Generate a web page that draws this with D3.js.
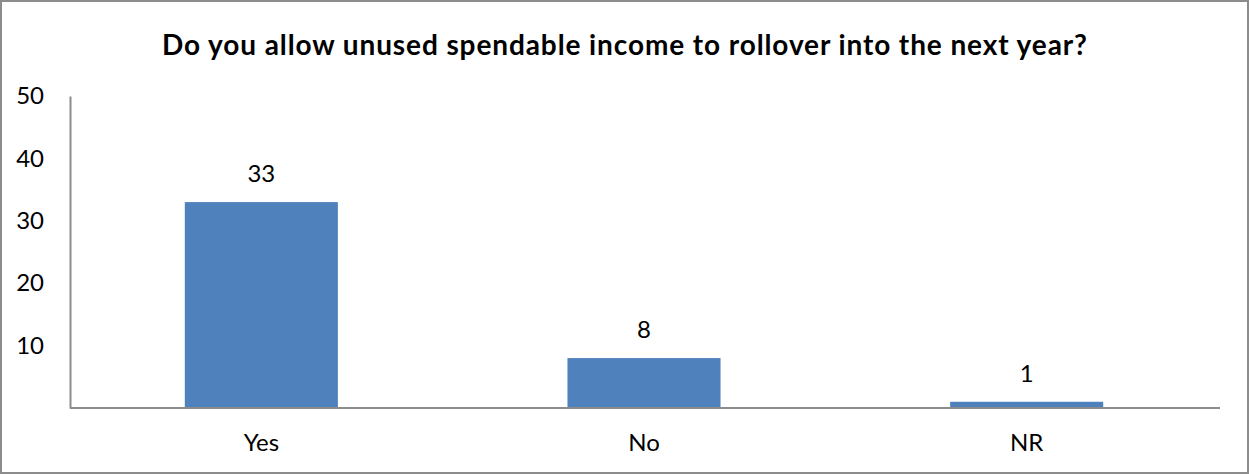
<!DOCTYPE html>
<html><head><meta charset="utf-8">
<script src="https://cdn.jsdelivr.net/npm/d3@7"></script>
<style>body{margin:0;background:#fff}svg{display:block}</style>
</head><body><svg id="c" width="1249" height="474"></svg>
<script>
const categories = ["Yes", "No", "NR"];
const values = [33, 8, 1];
const yTicks = [10, 20, 30, 40, 50];
const title = "Do you allow unused spendable income to rollover into the next year?";

const svg = d3.select("#c");
const W = 1249, H = 474;
const m = {left: 70, right: 31, top: 96, bottom: 66};
const font = "Lato, 'Open Sans', 'Liberation Sans', sans-serif";

svg.append("rect").attr("x", 1).attr("y", 1).attr("width", W - 2).attr("height", H - 2)
  .attr("fill", "#fff").attr("stroke", "#8c8c8c").attr("stroke-width", 2);

svg.append("text").attr("x", 625).attr("y", 55).attr("text-anchor", "middle")
  .attr("font-family", font).attr("font-weight", "bold").attr("font-size", 28)
  .attr("letter-spacing", 0.9).attr("fill", "#000")
  .text(title);

const x = d3.scaleBand().domain(categories).range([m.left, W - m.right]).paddingInner(0.6).paddingOuter(0.3);
const y = d3.scaleLinear().domain([0, 50]).range([H - m.bottom, m.top]);

svg.selectAll("rect.bar").data(values).enter().append("rect").attr("class", "bar")
  .attr("x", (d, i) => x(categories[i])).attr("width", x.bandwidth())
  .attr("y", d => y(d)).attr("height", d => y(0) - y(d)).attr("fill", "#4f81bd");

svg.selectAll("text.val").data(values).enter().append("text").attr("class", "val")
  .attr("x", (d, i) => x(categories[i]) + x.bandwidth() / 2).attr("y", d => y(d) - 20)
  .attr("text-anchor", "middle").attr("font-family", font).attr("font-size", 24).attr("fill", "#000")
  .text(d => d);

const yAxis = d3.axisLeft(y).tickValues(yTicks).tickSize(0).tickPadding(26);
const gy = svg.append("g").attr("transform", `translate(${m.left},0)`).call(yAxis);
gy.select(".domain").attr("stroke", "#8c8c8c").attr("stroke-width", 2);
gy.selectAll("text").attr("font-family", font).attr("font-size", 24).attr("fill", "#000");

const xAxis = d3.axisBottom(x).tickSize(0).tickPadding(26);
const gx = svg.append("g").attr("transform", `translate(0,${y(0)})`).call(xAxis);
gx.select(".domain").attr("stroke", "#8c8c8c").attr("stroke-width", 2)
  .attr("d", `M${m.left},0H${W - m.right + 2}`);
gx.selectAll("text").attr("font-family", font).attr("font-size", 24).attr("fill", "#000");
</script></body></html>
